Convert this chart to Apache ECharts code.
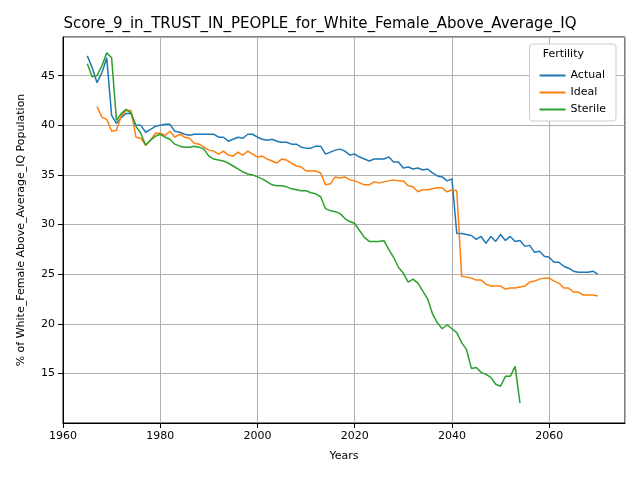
<!DOCTYPE html><html><head><meta charset="utf-8"><script src="https://cdn.jsdelivr.net/npm/echarts@6/dist/echarts.min.js"></script></head><body style="margin:0"><div id="c" style="width:640px;height:480px"></div><script>
const startActual=1965, startIdeal=1967, startSterile=1965;
const actual=[47.0,45.8,44.3,45.3,46.8,41.0,40.2,40.8,41.2,41.2,40.0,40.0,39.3,39.6,39.9,40.0,40.1,40.1,39.4,39.3,39.1,39.0,39.1,39.1,39.1,39.1,39.1,38.8,38.8,38.4,38.6,38.8,38.7,39.1,39.1,38.8,38.6,38.5,38.6,38.4,38.3,38.3,38.1,38.1,37.8,37.7,37.7,37.9,37.9,37.1,37.3,37.5,37.6,37.4,37.0,37.1,36.8,36.6,36.4,36.6,36.6,36.6,36.8,36.3,36.3,35.7,35.8,35.6,35.7,35.5,35.6,35.2,34.9,34.8,34.4,34.6,29.1,29.1,29.0,28.9,28.5,28.8,28.1,28.8,28.3,29.0,28.4,28.8,28.3,28.4,27.8,27.9,27.2,27.3,26.8,26.7,26.2,26.2,25.8,25.6,25.3,25.2,25.2,25.2,25.3,25.0];
const ideal=[41.9,40.8,40.6,39.4,39.5,41.0,41.5,41.5,38.8,38.7,38.0,38.5,39.2,39.2,39.0,39.4,38.8,39.1,38.8,38.7,38.2,38.1,37.8,37.5,37.4,37.1,37.4,37.0,36.9,37.3,37.0,37.4,37.1,36.8,36.9,36.6,36.4,36.2,36.6,36.5,36.2,35.9,35.8,35.4,35.4,35.4,35.2,34.0,34.1,34.8,34.7,34.8,34.5,34.4,34.2,34.0,34.0,34.3,34.2,34.3,34.4,34.5,34.4,34.4,33.9,33.8,33.3,33.5,33.5,33.6,33.7,33.7,33.3,33.5,33.4,24.8,24.7,24.6,24.4,24.4,24.0,23.8,23.8,23.8,23.5,23.6,23.6,23.7,23.8,24.2,24.3,24.5,24.6,24.6,24.3,24.1,23.6,23.6,23.2,23.2,22.9,22.9,22.9,22.8];
const sterile=[46.2,44.9,45.0,46.0,47.3,46.8,40.5,41.2,41.6,41.2,39.9,39.2,38.0,38.5,38.9,39.1,38.8,38.6,38.1,37.9,37.8,37.8,37.9,37.8,37.6,36.9,36.6,36.5,36.4,36.2,35.9,35.6,35.3,35.1,35.0,34.8,34.6,34.3,34.0,33.9,33.9,33.8,33.6,33.5,33.4,33.4,33.2,33.1,32.8,31.6,31.4,31.3,31.1,30.6,30.3,30.1,29.4,28.7,28.3,28.3,28.3,28.4,27.5,26.7,25.7,25.1,24.2,24.5,24.1,23.3,22.5,21.0,20.1,19.5,19.9,19.5,19.1,18.1,17.4,15.5,15.6,15.1,14.9,14.6,13.9,13.7,14.7,14.7,15.7,12.0];
const pairs=(s,a)=>a.map((v,i)=>[s+i,v]);
const F='DejaVu Sans';
const ch=echarts.init(document.getElementById('c'));
ch.setOption({
 animation:false,
 title:{text:'Score_9_in_TRUST_IN_PEOPLE_for_White_Female_Above_Average_IQ',left:'center',top:12,textStyle:{fontFamily:F,fontSize:15,fontWeight:'normal',color:'#000'}},
 grid:{left:63,right:15,top:37,bottom:57,show:true,borderColor:'#000',borderWidth:1,backgroundColor:'transparent'},
 xAxis:{type:'value',min:1960,max:2075.6,interval:20,name:'Years',nameLocation:'middle',nameGap:28,nameTextStyle:{fontFamily:F,fontSize:11,color:'#000'},
  axisLine:{show:true,onZero:false,lineStyle:{color:'#000'}},axisTick:{show:true,lineStyle:{color:'#000'}},
  axisLabel:{fontFamily:F,fontSize:11,color:'#000',showMaxLabel:false,formatter:v=>String(v)},
  splitLine:{show:true,lineStyle:{color:'#b0b0b0'}}},
 yAxis:{type:'value',min:10,max:48.9,interval:5,name:'% of White_Female Above_Average_IQ Population',nameLocation:'middle',nameGap:36,nameTextStyle:{fontFamily:F,fontSize:11,color:'#000'},
  axisLine:{show:true,onZero:false,lineStyle:{color:'#000'}},axisTick:{show:true,lineStyle:{color:'#000'}},
  axisLabel:{fontFamily:F,fontSize:11,color:'#000',showMaxLabel:false,showMinLabel:false},
  splitLine:{show:true,lineStyle:{color:'#b0b0b0'}}},
 legend:{orient:'vertical',right:24,top:44,padding:[26,10,6,10],itemGap:6,itemWidth:26,itemHeight:2,backgroundColor:'#fff',borderColor:'#ccc',borderWidth:1,borderRadius:3,
  textStyle:{fontFamily:F,fontSize:11,color:'#000'},icon:'rect',data:['Actual','Ideal','Sterile']},
 graphic:[{type:'text',right:56,top:49,z:100,style:{text:'Fertility',font:'11px DejaVu Sans',fill:'#000'}}],
 series:[
  {name:'Actual',type:'line',data:pairs(startActual,actual),showSymbol:false,lineStyle:{width:1.5,color:'#1f77b4'},itemStyle:{color:'#1f77b4'}},
  {name:'Ideal',type:'line',data:pairs(startIdeal,ideal),showSymbol:false,lineStyle:{width:1.5,color:'#ff7f0e'},itemStyle:{color:'#ff7f0e'}},
  {name:'Sterile',type:'line',data:pairs(startSterile,sterile),showSymbol:false,lineStyle:{width:1.5,color:'#2ca02c'},itemStyle:{color:'#2ca02c'}}
 ]
});
</script></body></html>
